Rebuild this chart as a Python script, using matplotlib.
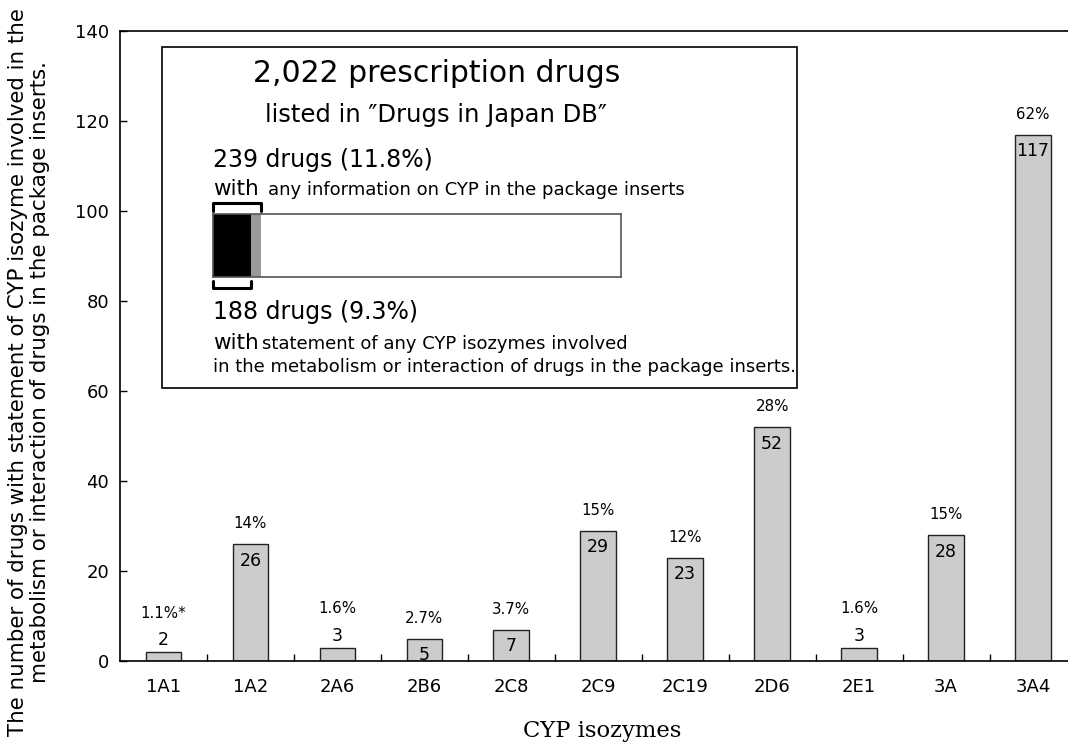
import matplotlib
matplotlib.use("Agg")
import matplotlib.pyplot as plt
import numpy as np

# ---- data ----
isozymes = ["1A1", "1A2", "2A6", "2B6", "2C8", "2C9", "2C19", "2D6", "2E1", "3A", "3A4"]
counts = [2, 26, 3, 5, 7, 29, 23, 52, 3, 28, 117]
pct_labels = ["1.1%*", "14%", "1.6%", "2.7%", "3.7%", "15%", "12%", "28%", "1.6%", "15%", "62%"]
total_drugs = 2022
cyp_info_drugs = 239
cyp_isozyme_drugs = 188

W, H = 1068, 744
DPI = 100
plt.rcParams['font.family'] = ["DejaVu Sans"]

fig = plt.figure(figsize=(W / DPI, H / DPI), dpi=DPI)

def fx(px):
    return px / W

def fy(py):
    return 1 - py / H

ax = fig.add_axes([fx(120), fy(661), fx(1076.5) - fx(120), fy(31) - fy(661)])
x = np.arange(len(isozymes))
ax.bar(x, counts, width=0.41, color="#cccccc", edgecolor="#222222", linewidth=1.0, zorder=2)
ax.set_xlim(-0.5, len(isozymes) - 0.5)
ax.set_ylim(0, 140)
ax.set_yticks(np.arange(0, 141, 20))
ax.set_xticks(x)
ax.set_xticklabels(isozymes, fontsize=13)
ax.tick_params(axis="x", length=0, pad=12)
ax.set_xticks(np.arange(0.5, len(isozymes) - 0.5, 1), minor=True)
ax.tick_params(axis="x", which="minor", direction="in", length=5, width=1)
ax.tick_params(axis="y", direction="in", length=5, width=1, labelsize=13, pad=8)
for s in ax.spines.values():
    s.set_linewidth(1.2)
    s.set_color("black")

for i, (c, p) in enumerate(zip(counts, pct_labels)):
    if c >= 5:
        ax.annotate(str(c), (i, c), xytext=(0, -12), textcoords="offset points",
                    ha="center", va="center", fontsize=12.5)
        ax.annotate(p, (i, c), xytext=(0, 14.5), textcoords="offset points",
                    ha="center", va="center", fontsize=10.8)
    else:
        ax.annotate(str(c), (i, c), xytext=(0, 8.5), textcoords="offset points",
                    ha="center", va="center", fontsize=12.5)
        ax.annotate(p, (i, c), xytext=(0, 28), textcoords="offset points",
                    ha="center", va="center", fontsize=10.8)

fig.text(fx(602), fy(731), "CYP isozymes", ha="center", va="center",
         fontsize=16.3, family="DejaVu Serif")
fig.text(fx(29), fy(372),
         "The number of drugs with statement of CYP isozyme involved in the\n"
         "metabolism or interaction of drugs in the package inserts.",
         rotation=90, ha="center", va="center", fontsize=15.4,
         multialignment="center", linespacing=1.15)

# ---- inset box ----
box = plt.Rectangle((fx(162), fy(388)), fx(797) - fx(162), fy(47) - fy(388),
                    transform=fig.transFigure, facecolor="white", edgecolor="black",
                    linewidth=1.2, zorder=5)
fig.patches.append(box)

fig.text(fx(437), fy(73), "2,022 prescription drugs", ha="center", va="center", fontsize=21.5, zorder=6)
fig.text(fx(436), fy(115), "listed in \u2033Drugs in Japan DB\u2033", ha="center", va="center", fontsize=17.5, zorder=6)
fig.text(fx(213), fy(160), "239 drugs (11.8%)", ha="left", va="center", fontsize=17, zorder=6)
fig.text(fx(213), fy(189), "with", ha="left", va="center", fontsize=15.5, zorder=6)
fig.text(fx(268), fy(190), "any information on CYP in the package inserts", ha="left", va="center", fontsize=13, zorder=6)
fig.text(fx(213), fy(312), "188 drugs (9.3%)", ha="left", va="center", fontsize=17, zorder=6)
fig.text(fx(213), fy(343), "with", ha="left", va="center", fontsize=15.5, zorder=6)
fig.text(fx(262), fy(344), "statement of any CYP isozymes involved", ha="left", va="center", fontsize=13, zorder=6)
fig.text(fx(213), fy(367), "in the metabolism or interaction of drugs in the package inserts.",
         ha="left", va="center", fontsize=13, zorder=6)

bax = fig.add_axes([fx(213), fy(277), fx(621) - fx(213), fy(214) - fy(277)], zorder=7)
bax.set_xlim(0, total_drugs)
bax.set_ylim(0, 1)
bax.barh(0.5, total_drugs, height=1.0, color="white", edgecolor="none")
bax.barh(0.5, cyp_info_drugs, height=1.0, color="#999999", edgecolor="none")
bax.barh(0.5, cyp_isozyme_drugs, height=1.0, color="black", edgecolor="none")
bax.set_xticks([])
bax.set_yticks([])
for s in bax.spines.values():
    s.set_linewidth(1.2)
    s.set_color("#555555")
# brackets
bax.plot([0, 0, cyp_info_drugs, cyp_info_drugs], [1.05, 1.17, 1.17, 1.05], color="black",
         lw=2.2, clip_on=False, solid_joinstyle="round", solid_capstyle="round")
bax.plot([0, 0, cyp_isozyme_drugs, cyp_isozyme_drugs], [-0.06, -0.17, -0.17, -0.06], color="black",
         lw=2.2, clip_on=False, solid_joinstyle="round", solid_capstyle="round")

fig.savefig("out.png", dpi=DPI)
